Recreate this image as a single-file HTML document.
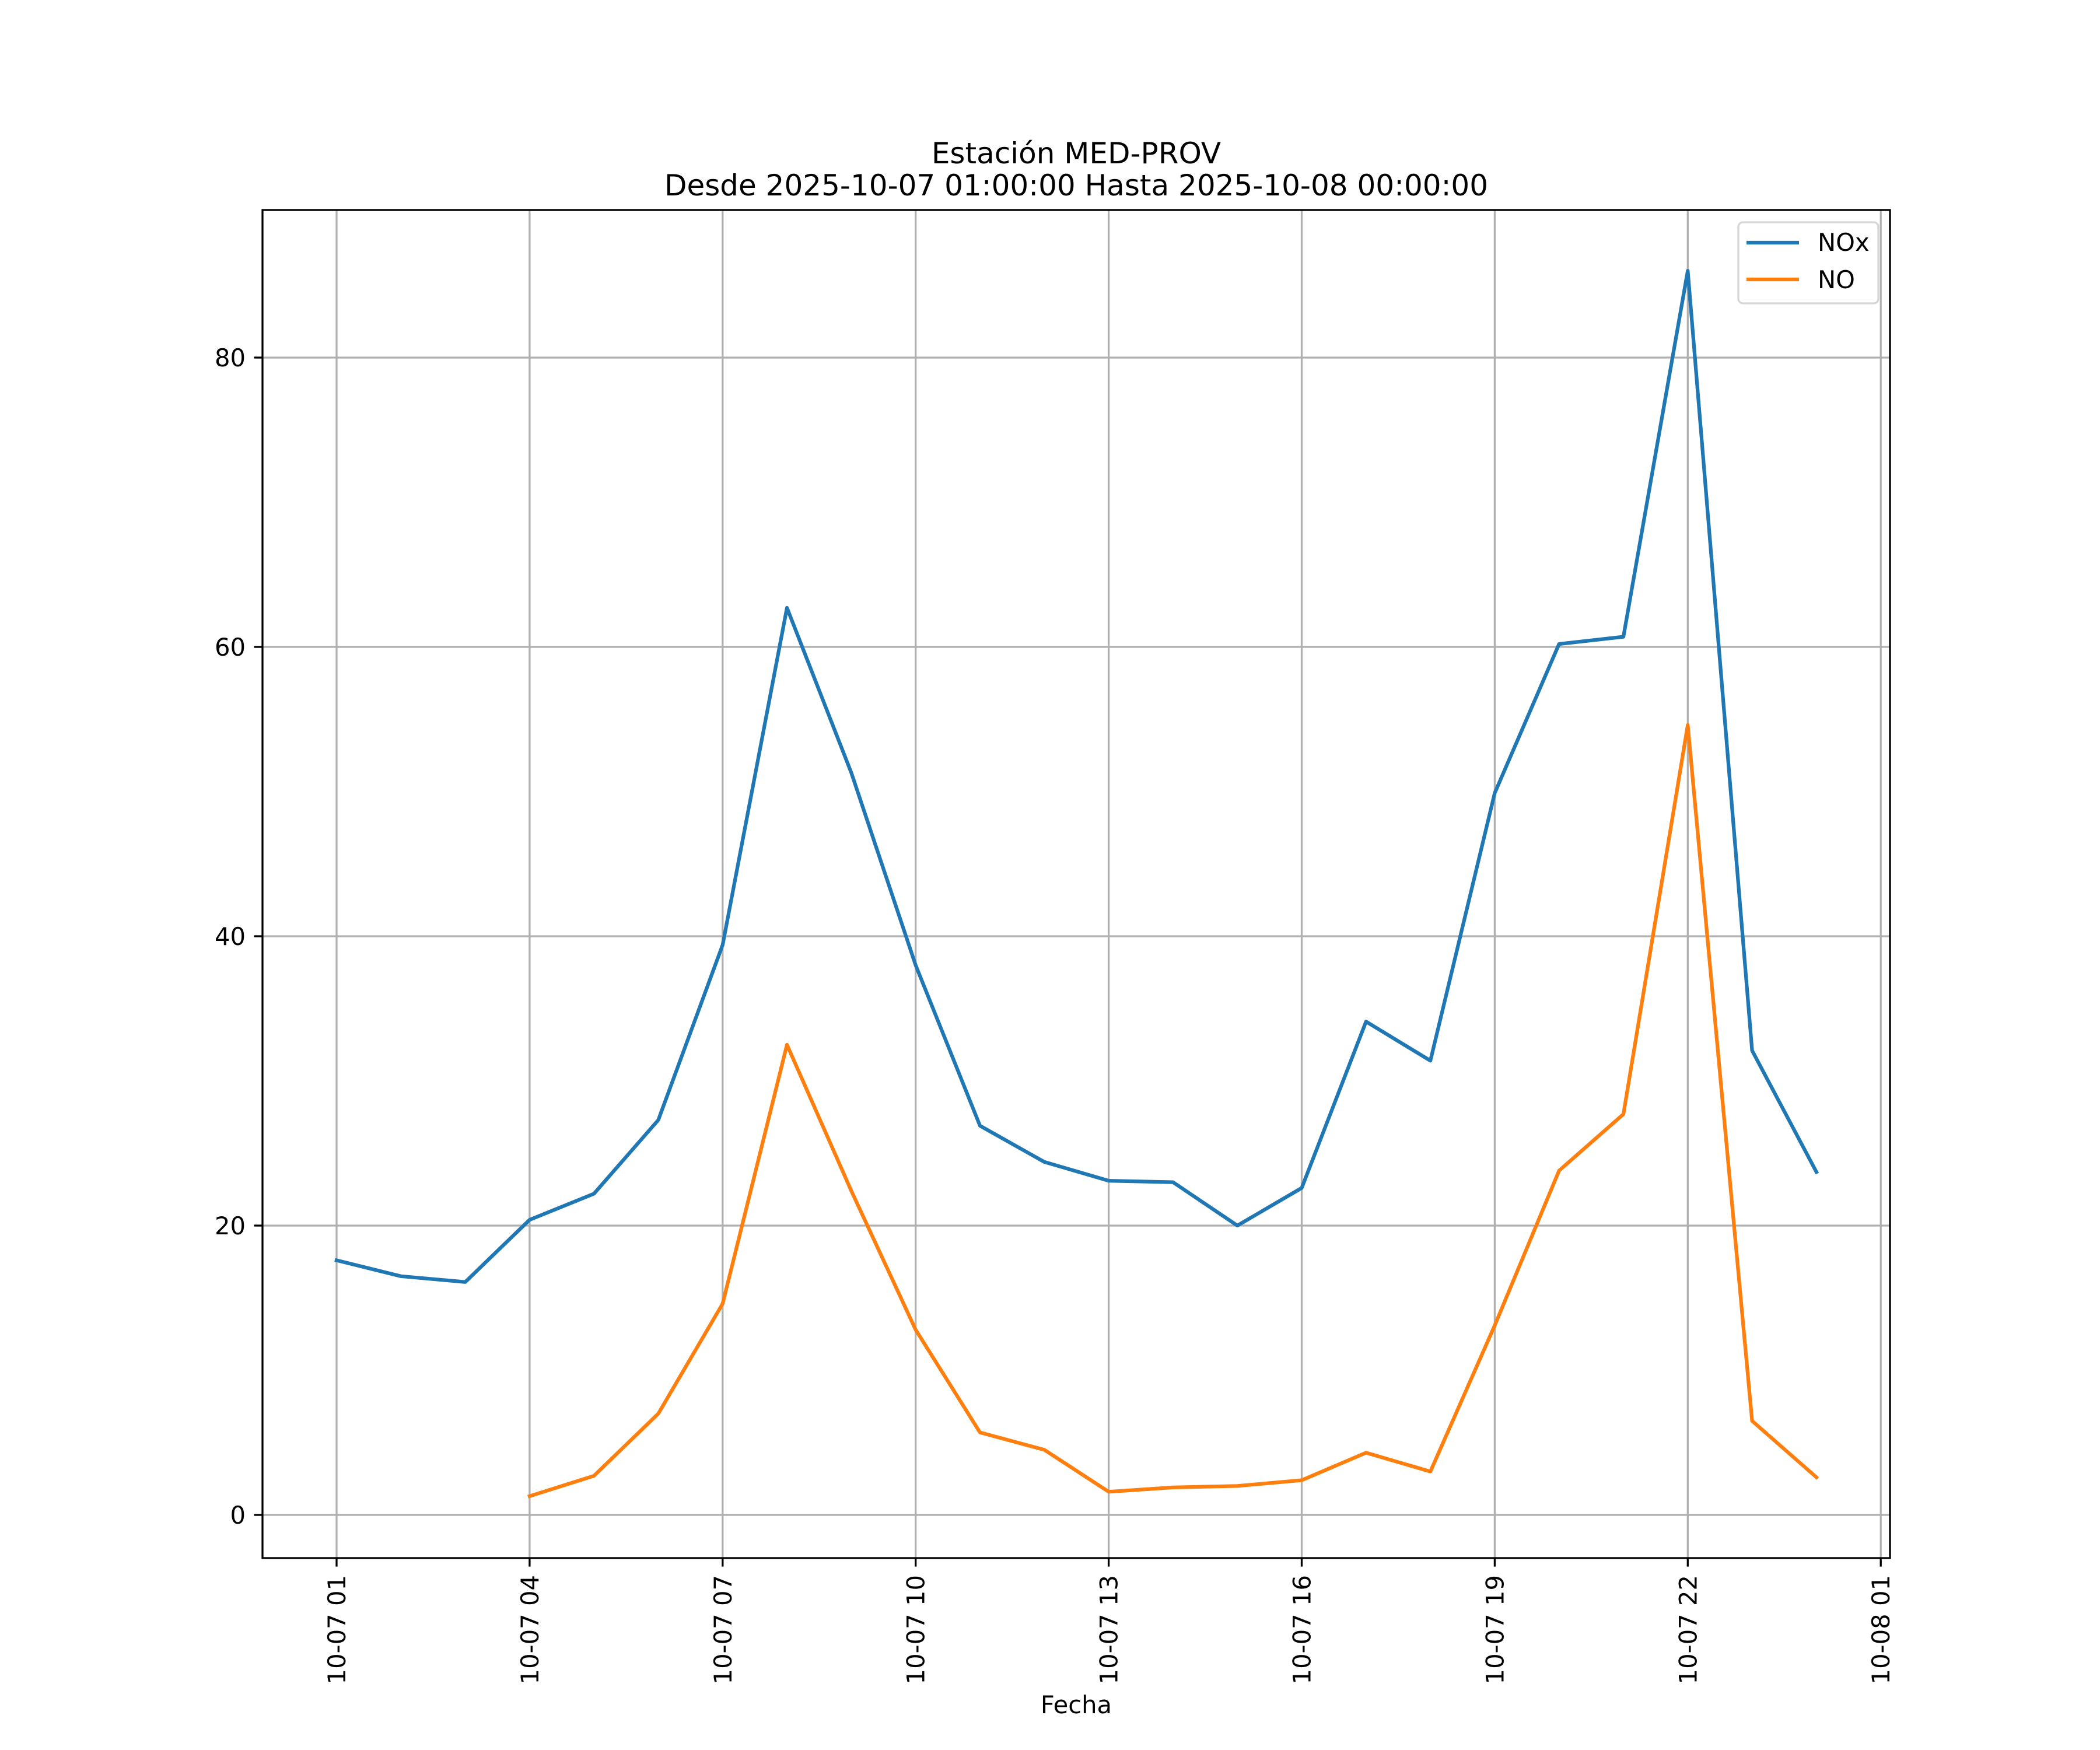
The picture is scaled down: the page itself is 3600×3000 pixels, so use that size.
<!DOCTYPE html>
<html><head><meta charset="utf-8"><style>
html,body{margin:0;padding:0;background:#fff;}
svg{display:block;font-family:"DejaVu Sans","Liberation Sans",sans-serif;}
</style></head><body>
<svg id="chart" width="3600" height="3000" viewBox="0 0 3600 3000" xmlns="http://www.w3.org/2000/svg">
<rect width="3600" height="3000" fill="#fff"/>
<text x="1845" y="280" font-size="50" text-anchor="middle">Estación MED-PROV</text>
<text x="1845" y="335" font-size="50" text-anchor="middle">Desde 2025-10-07 01:00:00 Hasta 2025-10-08 00:00:00</text>
<g id="grid"></g>
<g id="series"></g>
<rect x="450" y="360" width="2790" height="2311" fill="none" stroke="#000" stroke-width="3.3"/>
<g id="ticks"></g>
<text x="1845" y="2937" font-size="41.7" text-anchor="middle">Fecha</text>
<g>
<rect x="2980" y="381" width="240" height="139" rx="8" fill="#fff" fill-opacity="0.8" stroke="#d6d6d6" stroke-width="3.3"/>
<g><line x1="2994" y1="416" x2="3084" y2="416" stroke="#1f77b4" stroke-width="6.25"/><text x="3116" y="430" font-size="41.7">NOx</text></g>
<g><line x1="2994" y1="479" x2="3084" y2="479" stroke="#ff7f0e" stroke-width="6.25"/><text x="3116" y="494" font-size="41.7">NO</text></g>
</g>
</svg>
<script>
const hours = [1,2,3,4,5,6,7,8,9,10,11,12,13,14,15,16,17,18,19,20,21,22,23,24];
const noxValues = [17.6,16.5,16.1,20.4,22.2,27.3,39.4,62.7,51.3,38.0,26.9,24.4,23.1,23.0,20.0,22.6,34.1,31.4,49.9,60.2,60.7,86.0,32.1,23.7];
const noValues = [null,null,null,1.3,2.7,7.0,14.6,32.5,22.4,12.8,5.7,4.5,1.6,1.9,2.0,2.4,4.3,3.0,13.1,23.8,27.7,54.6,6.5,2.6];
const xTickHours = [1,4,7,10,13,16,19,22,25];
const xTickLabels = ["10-07 01","10-07 04","10-07 07","10-07 10","10-07 13","10-07 16","10-07 19","10-07 22","10-08 01"];
const yTicks = [0,20,40,60,80];

const NS="http://www.w3.org/2000/svg";
const X0=450,X1=3240,Y0=360,Y1=2671;
function xs(h){return 577+(h-1)*110.3;}
function ys(v){return 2597-v*24.8;}
function mk(tag,attrs,parent){const e=document.createElementNS(NS,tag);for(const k in attrs)e.setAttribute(k,attrs[k]);parent.appendChild(e);return e;}
const grid=document.getElementById('grid'),ticks=document.getElementById('ticks'),series=document.getElementById('series');
xTickHours.forEach((h,i)=>{
  const x=xs(h);
  if(x<X1){const g=mk('line',{x1:x,y1:Y0,x2:x,y2:Y1,stroke:'#b0b0b0','stroke-width':3.3},grid);
  
  }
  const t=mk('line',{x1:x,y1:Y1,x2:x,y2:Y1+14.6,stroke:'#000','stroke-width':3.3},ticks);
  
  
  const lb=mk('text',{x:0,y:0,'font-size':41.7,'text-anchor':'end',transform:`translate(${x+15},2700) rotate(-90)`},ticks);
  lb.textContent=xTickLabels[i];
  
  
});
yTicks.forEach(v=>{
  const y=ys(v);
  const g=mk('line',{x1:X0,y1:y,x2:X1,y2:y,stroke:'#b0b0b0','stroke-width':3.3},grid);
  
  
  const t=mk('line',{x1:X0-14.6,y1:y,x2:X0,y2:y,stroke:'#000','stroke-width':3.3},ticks);
  
  
  const lb=mk('text',{x:421,y:y+15,'font-size':41.7,'text-anchor':'end'},ticks);
  lb.textContent=String(v);
  
  
});
function drawLine(vals,color,name){
  const pts=[];hours.forEach((h,i)=>{if(vals[i]!==null)pts.push(xs(h).toFixed(1)+','+ys(vals[i]).toFixed(1));});
  const p=mk('polyline',{points:pts.join(' '),fill:'none',stroke:color,'stroke-width':6.25,'stroke-linejoin':'round','stroke-linecap':'square'},series);
  
  
}
drawLine(noxValues,'#1f77b4','nox-line');
drawLine(noValues,'#ff7f0e','no-line');
</script>
</body></html>
